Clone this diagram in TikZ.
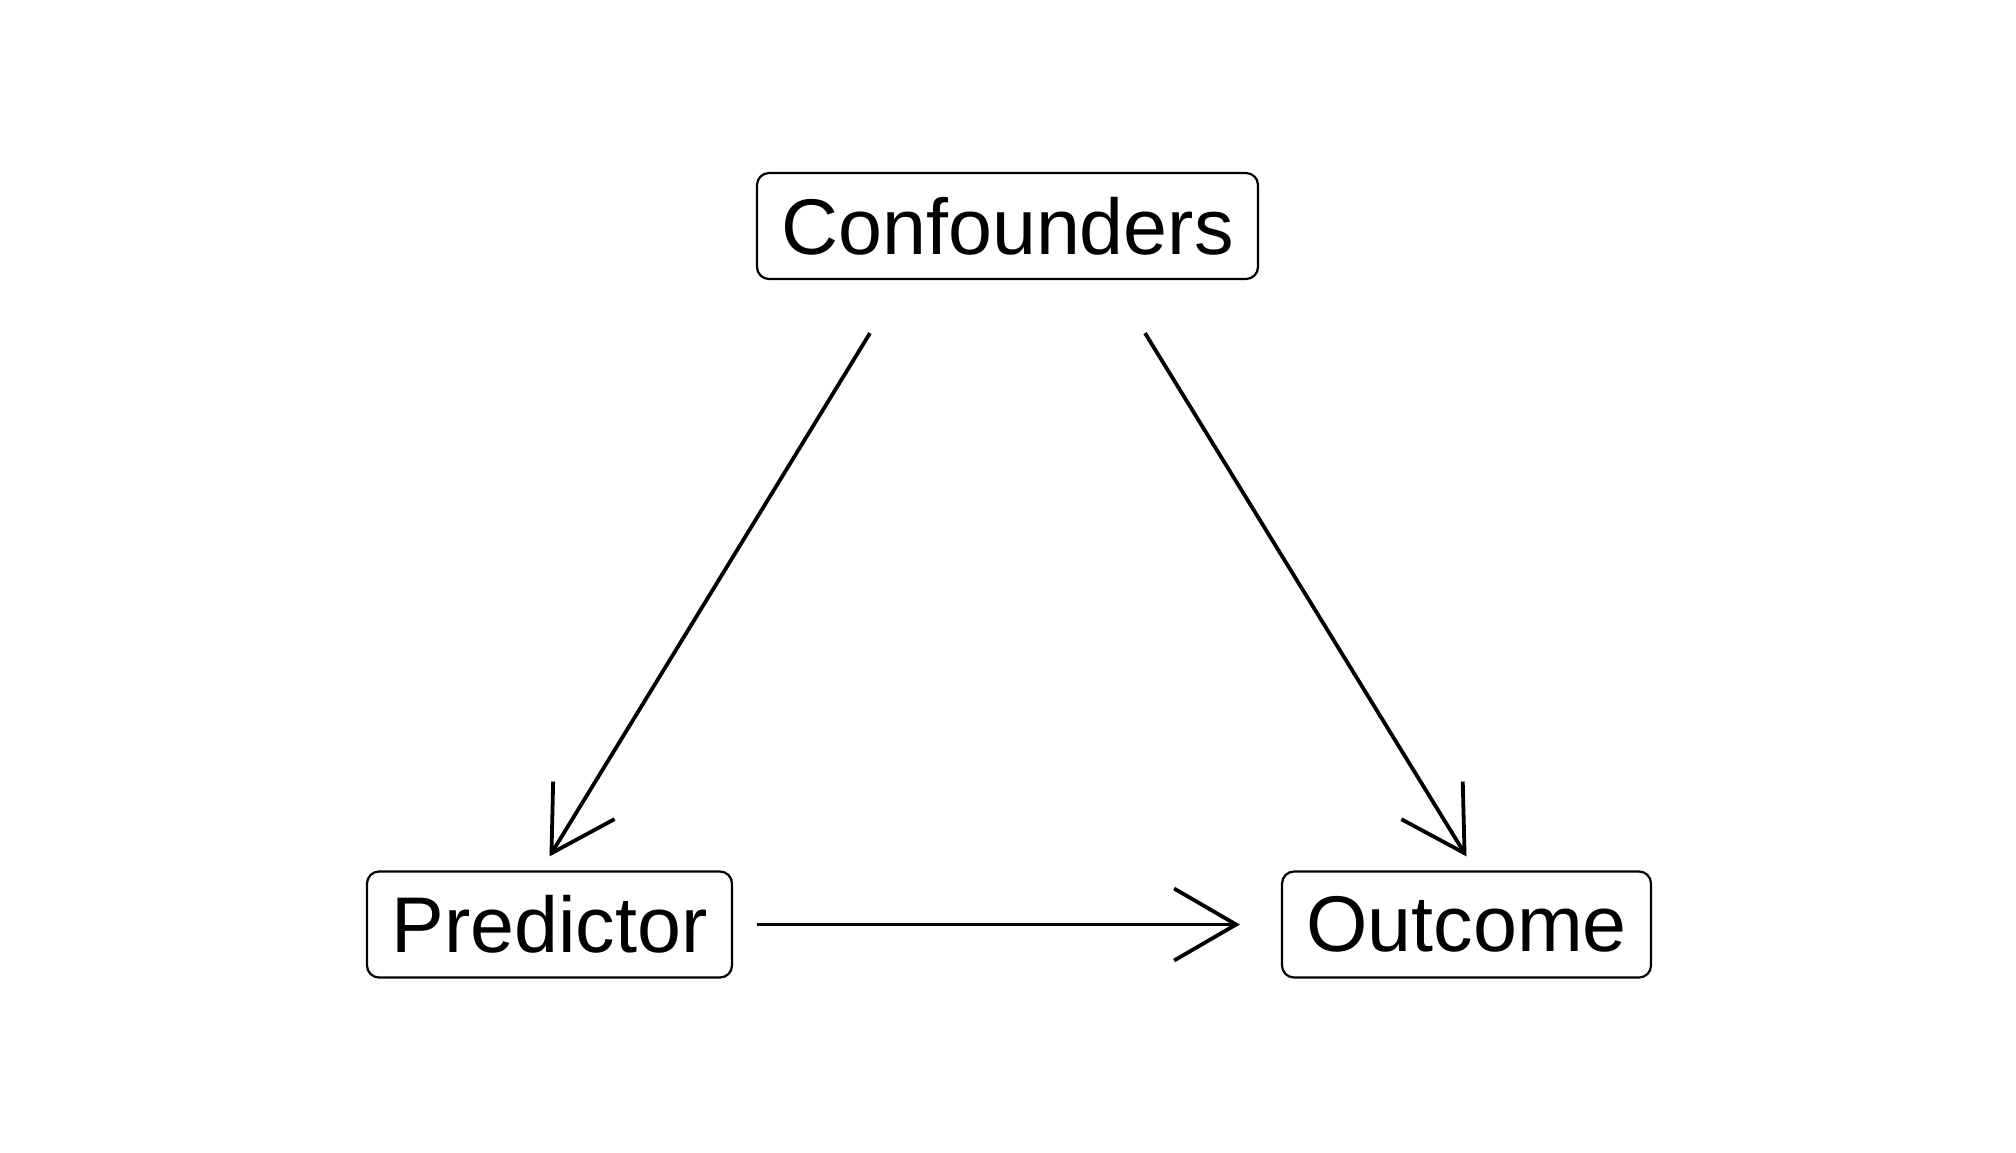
\documentclass[tikz,border=0pt]{standalone}
\usepackage{fontspec}
\setmainfont{Liberation Sans}
\usetikzlibrary{arrows.meta}
\begin{document}
\begin{tikzpicture}[x=0.5pt,y=-0.5pt,
  box/.style={draw=black, line width=1.1pt, rounded corners=6pt, inner sep=0pt,
    minimum height=53pt, font=\fontsize{39.5}{48}\selectfont, fill=white},
  conn/.style={line width=1.9pt, -{Straight Barb[length=31pt,width=36pt,line width=1.9pt]}}
]
\useasboundingbox (0,0) rectangle (2016,1152);
\node[box, minimum width=250.5pt] (conf) at (1007.5,226) {Confounders};
\node[box, minimum width=182.5pt] (pred) at (549.5,924.5) {Predictor};
\node[box, minimum width=184.5pt] (outc) at (1466.5,924.5) {Outcome};
\draw[conn] ([xshift=-68.75pt,yshift=-26.5pt]conf.south) -- ([yshift=7pt]pred.north);
\draw[conn] ([xshift=68.75pt,yshift=-26.5pt]conf.south) -- ([yshift=7pt]outc.north);
\draw[conn] ([xshift=12pt]pred.east) -- ([xshift=-20.5pt]outc.west);
\end{tikzpicture}
\end{document}
